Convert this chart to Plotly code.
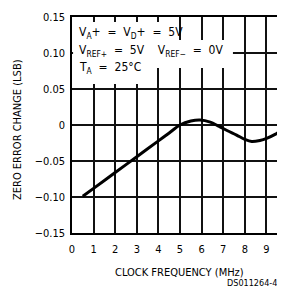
import plotly.graph_objects as go

freq_mhz = [0.5, 1, 2, 3, 4, 4.5, 5.0, 5.5, 5.93, 6.4, 6.85, 7.2, 7.62, 8.0, 8.32, 8.7, 9.01, 9.4, 9.86]
zero_err = [-0.099, -0.088, -0.066, -0.044, -0.022, -0.011, 0.0, 0.0055, 0.007, 0.004,
            -0.0025, -0.008, -0.014, -0.020, -0.023, -0.0215, -0.0186, -0.013, -0.0047]

x_ticks = [0, 1, 2, 3, 4, 5, 6, 7, 8, 9]
y_ticks = [-0.15, -0.10, -0.05, 0, 0.05, 0.10, 0.15]
y_tick_labels = ["−0.15", "−0.10", "−0.05", "0", "0.05", "0.10", "0.15"]

FONT = "DejaVu Sans Condensed, Liberation Sans, Arial"
OFF = 8                      # default page body margin
W, H = 285 - OFF, 289 - OFF  # figure size so it fits the window
PL, PT, PR, PB = 72, 17, 285, 233   # plot area in page pixels
L, T = PL - OFF, PT - OFF
B = H - (PB - OFF)
XMAX = 9.86

fig = go.Figure()
fig.add_trace(go.Scatter(x=freq_mhz, y=zero_err, mode="lines",
                         line=dict(color="black", width=3, shape="spline", smoothing=0.8),
                         hoverinfo="skip", showlegend=False))

# white backgrounds behind the condition text (cover grid lines)
for x0, x1, y0, y1 in [(0.05, 4.8, 0.118, 0.1431), (0.05, 7.45, 0.0792, 0.118), (0.05, 3.6, 0.0569, 0.0792)]:
    fig.add_shape(type="rect", xref="x", yref="y", x0=x0, x1=x1, y0=y0, y1=y1,
                  fillcolor="white", line=dict(width=0), layer="between")

def px_x(px):
    return (px - PL) / (PR - PL)

def px_y(py):
    return (PB - py) / (PB - PT)

texts = [
    ("V<sub>A</sub>+  =  V<sub>D</sub>+  =  5V", 33),
    ("V<sub>REF+</sub>  =  5V    V<sub>REF−</sub>  =  0V", 51),
    ("T<sub>A</sub>  =  25°C", 68),
]
for txt, py in texts:
    fig.add_annotation(text=txt, xref="paper", yref="paper", x=px_x(77), y=px_y(py),
                       xanchor="left", yanchor="middle", showarrow=False,
                       font=dict(family=FONT, size=12, color="black"))

# y-axis title
fig.add_annotation(text="ZERO ERROR CHANGE (LSB)", xref="paper", yref="paper",
                   x=px_x(17), y=px_y(130), textangle=-90, xanchor="center", yanchor="middle",
                   showarrow=False, font=dict(family=FONT, size=11, color="black"))
# x-axis title
fig.add_annotation(text="CLOCK FREQUENCY (MHz)", xref="paper", yref="paper",
                   x=px_x(179), y=px_y(272), xanchor="center", yanchor="middle",
                   showarrow=False, font=dict(family=FONT, size=11, color="black"))

# partial "10" tick label at the clipped right edge
fig.add_annotation(text="10", xref="paper", yref="paper", x=px_x(288), y=px_y(248),
                   xanchor="center", yanchor="middle", showarrow=False,
                   font=dict(family=FONT, size=11, color="black"))

fig.add_annotation(text="DS011264-4", xref="paper", yref="paper", x=px_x(279), y=px_y(283),
                   xanchor="right", yanchor="middle", showarrow=False,
                   font=dict(family=FONT, size=9, color="black"))

fig.update_layout(
    width=W, height=H,
    margin=dict(l=L, r=0, t=T, b=B, autoexpand=False),
    paper_bgcolor="white", plot_bgcolor="white",
    font=dict(family=FONT, size=11, color="black"),
    xaxis=dict(range=[0, XMAX], tickvals=x_ticks, showgrid=True, gridcolor="#111", gridwidth=1.5,
               showline=True, linecolor="black", linewidth=1.5, mirror=True, zeroline=False,
               ticks="", ticklabelstandoff=5, automargin=False),
    yaxis=dict(range=[-0.15, 0.15], tickvals=y_ticks, ticktext=y_tick_labels,
               showgrid=True, gridcolor="#111", gridwidth=1.5,
               showline=True, linecolor="black", linewidth=1.5, mirror=False, zeroline=False,
               ticks="", ticklabelstandoff=3, automargin=False),
)

fig.write_html("out.html")
